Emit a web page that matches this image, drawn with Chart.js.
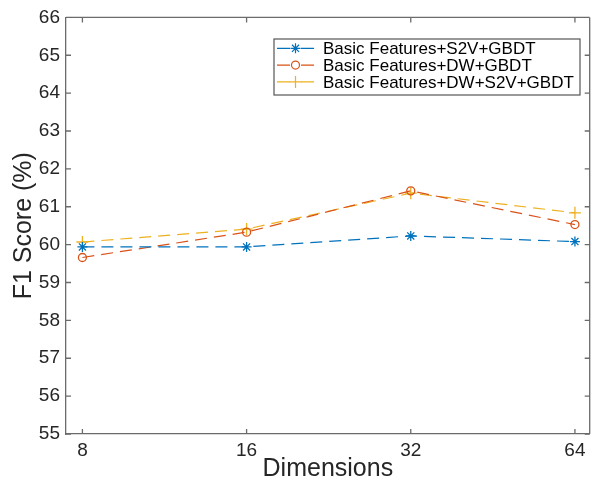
<!DOCTYPE html>
<html>
<head>
<meta charset="utf-8">
<script src="https://cdn.jsdelivr.net/npm/chart.js@4.4.0/dist/chart.umd.min.js"></script>
<style>
  body { margin: 0; background: #fff; }
  #wrap { width: 597px; height: 483px; position: relative; }
</style>
</head>
<body>
<div id="wrap"><canvas id="f1Chart"></canvas></div>
<script>
// data
const dimensions = ['8', '16', '32', '64'];
const s2vGbdt = [59.94, 59.94, 60.23, 60.08];
const dwGbdt = [59.66, 60.33, 61.42, 60.53];
const dwS2vGbdt = [60.07, 60.41, 61.36, 60.84];
const yMin = 55, yMax = 66;

const seriesNames = ['Basic Features+S2V+GBDT', 'Basic Features+DW+GBDT', 'Basic Features+DW+S2V+GBDT'];
const colors = ['#0072BD', '#D95319', '#EDB120'];
const markers = ['star', 'circle', 'cross'];
const markerSizes = [5, 4, 6];

function toPoints(values) {
    return values.map((v, i) => ({ x: i, y: v }));
}

const axisGrey = '#6b6b6b';
const textDark = '#262626';

// box + inward ticks like matlab
const boxPlugin = {
    id: 'boxPlugin',
    afterDraw(chart) {
        const ctx = chart.ctx;
        const a = chart.chartArea;
        const xs = chart.scales.x, ys = chart.scales.y;
        const tl = 5;
        ctx.save();
        ctx.strokeStyle = axisGrey;
        ctx.lineWidth = 1.3;
        ctx.beginPath();
        ctx.moveTo(a.left, a.top); ctx.lineTo(a.right, a.top);
        ctx.moveTo(a.right, a.top); ctx.lineTo(a.right, a.bottom);
        dimensions.forEach((d, i) => {
            const px = xs.getPixelForValue(i);
            ctx.moveTo(px, a.bottom); ctx.lineTo(px, a.bottom - tl);
            ctx.moveTo(px, a.top); ctx.lineTo(px, a.top + tl);
        });
        for (let v = yMin; v <= yMax; v++) {
            const py = ys.getPixelForValue(v);
            ctx.moveTo(a.left, py); ctx.lineTo(a.left + tl, py);
            ctx.moveTo(a.right, py); ctx.lineTo(a.right - tl, py);
        }
        ctx.stroke();

        // legend
        const lx = 274, ly = 39, lw = 306, lh = 56;
        ctx.fillStyle = '#fff';
        ctx.fillRect(lx, ly, lw, lh);
        ctx.strokeStyle = '#555';
        ctx.lineWidth = 1.2;
        ctx.strokeRect(lx, ly, lw, lh);
        ctx.font = '17px "Liberation Sans", Arial, sans-serif';
        ctx.textBaseline = 'middle';
        ctx.textAlign = 'left';
        seriesNames.forEach((name, i) => {
            const y = 48.3 + i * 16.8;
            ctx.strokeStyle = colors[i];
            ctx.lineWidth = 1.2;
            ctx.beginPath();
            ctx.moveTo(277, y); ctx.lineTo(290, y);
            ctx.moveTo(301, y); ctx.lineTo(314, y);
            ctx.stroke();
            ctx.fillStyle = '#fff';
            ctx.strokeStyle = colors[i];
            Chart.helpers.drawPoint(ctx, {
                pointStyle: markers[i], radius: markerSizes[i], rotation: 0,
                borderWidth: 1.2
            }, 295.5, y);
            ctx.fillStyle = '#000';
            ctx.fillText(name, 323, y + 1);
        });
        ctx.restore();
    }
};

const datasets = [s2vGbdt, dwGbdt, dwS2vGbdt].map((vals, i) => ({
    label: seriesNames[i],
    data: toPoints(vals),
    borderColor: colors[i],
    backgroundColor: colors[i],
    pointBorderColor: colors[i],
    pointBackgroundColor: 'rgba(0,0,0,0)',
    pointStyle: markers[i],
    pointRadius: markerSizes[i],
    pointBorderWidth: 1.3,
    borderWidth: 1.2,
    borderDash: [12, 7],
    tension: 0,
    fill: false
}));

const ctx = document.getElementById('f1Chart').getContext('2d');
new Chart(ctx, {
    type: 'line',
    data: { datasets: datasets },
    options: {
        responsive: true,
        maintainAspectRatio: false,
        animation: false,
        devicePixelRatio: 1,
        layout: { padding: { top: 13, right: 1, left: 0, bottom: 0 } },
        plugins: { legend: { display: false }, tooltip: { enabled: false } },
        scales: {
            x: {
                type: 'linear',
                min: -0.1,
                max: 3.09,
                afterBuildTicks: s => { s.ticks = dimensions.map((d, i) => ({ value: i })); },
                afterFit: s => { s.height = 49; },
                grid: { display: false, drawTicks: false },
                border: { display: true, color: axisGrey, width: 1.3 },
                ticks: {
                    padding: 5,
                    color: textDark,
                    font: { family: '"Liberation Sans", Arial, sans-serif', size: 19 },
                    callback: v => dimensions[v]
                },
                title: {
                    display: true,
                    text: 'Dimensions',
                    color: textDark,
                    font: { family: '"Liberation Sans", Arial, sans-serif', size: 25, lineHeight: 1 },
                    padding: { top: 0, bottom: 1.5 }
                }
            },
            y: {
                min: yMin,
                max: yMax,
                afterFit: s => { s.width = 66; },
                grid: { display: false, drawTicks: false },
                border: { display: true, color: axisGrey, width: 1.3 },
                ticks: {
                    stepSize: 1,
                    padding: 6,
                    color: textDark,
                    font: { family: '"Liberation Sans", Arial, sans-serif', size: 19 }
                },
                title: {
                    display: true,
                    text: 'F1 Score (%)',
                    color: textDark,
                    font: { family: '"Liberation Sans", Arial, sans-serif', size: 25 },
                    padding: { top: 9, bottom: 0 }
                }
            }
        }
    },
    plugins: [boxPlugin]
});
</script>
</body>
</html>
